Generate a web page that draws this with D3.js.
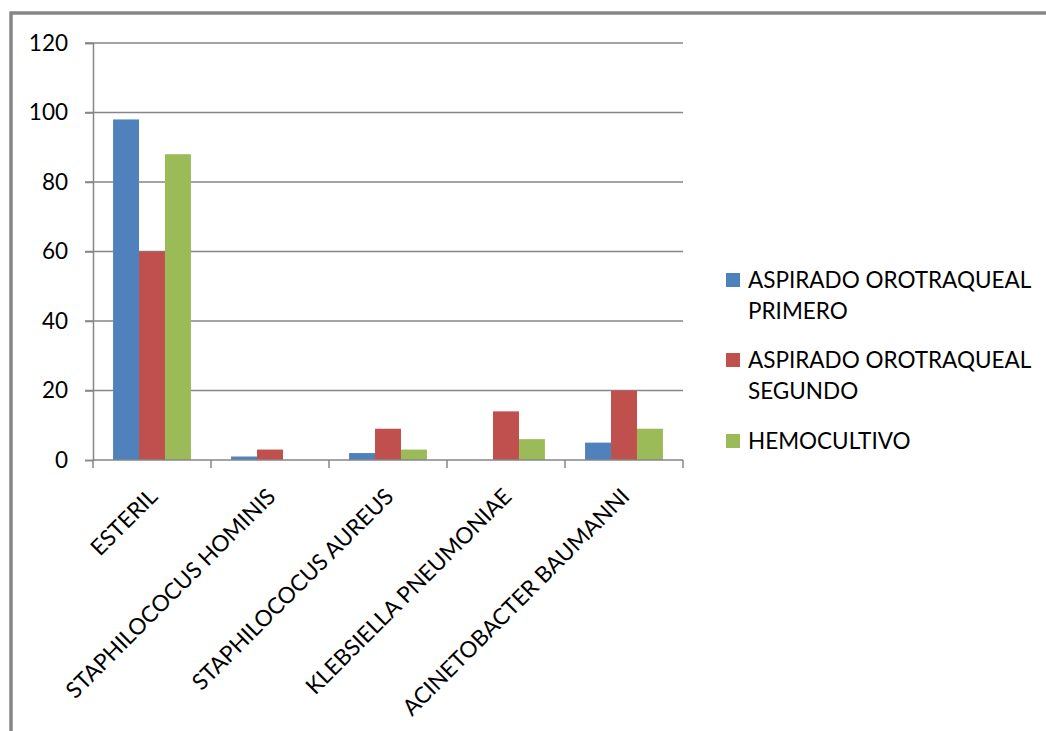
<!DOCTYPE html>
<html>
<head>
<meta charset="utf-8">
<script src="https://cdn.jsdelivr.net/npm/d3@7"></script>
<style>
  html, body { margin: 0; padding: 0; background: #fff; }
  svg { display: block; font-family: Lato, "Open Sans", sans-serif; }
</style>
</head>
<body>
<svg id="chart" width="1046" height="731"></svg>
<script>
// Organisms isolated per sample type
const categories = ["ESTERIL", "STAPHILOCOCUS HOMINIS", "STAPHILOCOCUS AUREUS", "KLEBSIELLA PNEUMONIAE", "ACINETOBACTER BAUMANNI"];
const seriesNames = ["ASPIRADO OROTRAQUEAL PRIMERO", "ASPIRADO OROTRAQUEAL SEGUNDO", "HEMOCULTIVO"];
const legendLines = [["ASPIRADO OROTRAQUEAL", "PRIMERO"], ["ASPIRADO OROTRAQUEAL", "SEGUNDO"], ["HEMOCULTIVO"]];
const aspiradoPrimero = [98, 1, 2, 0, 5];
const aspiradoSegundo = [60, 3, 9, 14, 20];
const hemocultivo = [88, 0, 3, 6, 9];
const yTicks = [0, 20, 40, 60, 80, 100, 120];
const colors = ["#4F81BD", "#C0504D", "#9BBB59"];

const seriesValues = [aspiradoPrimero, aspiradoSegundo, hemocultivo];

const svg = d3.select("#chart");
const gridColor = "#868686";
const fontSize = 22.5;

// Outer frame
svg.append("rect")
  .attr("x", 11).attr("y", 13)
  .attr("width", 1100).attr("height", 800)
  .attr("fill", "none")
  .attr("stroke", gridColor)
  .attr("stroke-width", 3.5);

const plot = { left: 93, right: 683, top: 43, bottom: 460 };

const x = d3.scaleBand()
  .domain(categories)
  .range([plot.left, plot.right])
  .paddingInner(0.34)
  .paddingOuter(0.17);

const xSeries = d3.scaleBand()
  .domain(d3.range(seriesNames.length))
  .range([0, x.bandwidth()]);

const y = d3.scaleLinear()
  .domain([0, 120])
  .range([plot.bottom, plot.top]);

// Horizontal gridlines
svg.append("g")
  .selectAll("line")
  .data(yTicks.filter(t => t > 0))
  .join("line")
  .attr("x1", plot.left - 8)
  .attr("x2", plot.right)
  .attr("y1", d => y(d))
  .attr("y2", d => y(d))
  .attr("stroke", gridColor)
  .attr("stroke-width", 1.5);

// Bars
const groups = svg.append("g")
  .selectAll("g")
  .data(seriesValues)
  .join("g")
  .attr("fill", (d, i) => colors[i]);

groups.selectAll("rect")
  .data((vals, si) => vals.map((v, ci) => ({ v, ci, si })))
  .join("rect")
  .attr("x", d => x(categories[d.ci]) + xSeries(d.si))
  .attr("y", d => y(d.v))
  .attr("width", xSeries.bandwidth())
  .attr("height", d => y(0) - y(d.v));

// Y axis
const yAxis = d3.axisLeft(y)
  .tickValues(yTicks)
  .tickSize(8)
  .tickFormat(d3.format("d"));

const yG = svg.append("g")
  .attr("transform", `translate(${plot.left},0)`)
  .call(yAxis);
yG.select(".domain").attr("stroke", gridColor).attr("stroke-width", 1.5);
yG.selectAll(".tick line").attr("stroke", gridColor).attr("stroke-width", 1.5);
yG.selectAll(".tick text")
  .attr("x", -25)
  .attr("font-size", fontSize)
  .attr("font-family", "Lato, sans-serif")
  .attr("fill", "#000");

// X axis with ticks at category boundaries
const boundaries = categories.map(c => x(c) - x.step() * x.paddingInner() / 2)
  .concat([plot.right]);
const xG = svg.append("g");
xG.append("line")
  .attr("x1", plot.left).attr("x2", plot.right)
  .attr("y1", plot.bottom).attr("y2", plot.bottom)
  .attr("stroke", gridColor).attr("stroke-width", 1.5);
xG.selectAll("line.tick")
  .data(boundaries)
  .join("line")
  .attr("class", "tick")
  .attr("x1", d => d).attr("x2", d => d)
  .attr("y1", plot.bottom).attr("y2", plot.bottom + 8)
  .attr("stroke", gridColor).attr("stroke-width", 1.5);

// Rotated category labels
xG.selectAll("text")
  .data(categories)
  .join("text")
  .attr("transform", d => `translate(${x(d) + x.bandwidth() / 2 + 7},${plot.bottom + 38}) rotate(-45)`)
  .attr("text-anchor", "end")
  .attr("font-size", fontSize)
  .attr("fill", "#000")
  .text(d => d);

// Legend
const legendY = [273, 353, 434];
const legend = svg.append("g");
seriesNames.forEach((name, i) => {
  const g = legend.append("g").attr("transform", `translate(726,${legendY[i]})`);
  g.append("rect")
    .attr("width", 14).attr("height", 14)
    .attr("fill", colors[i]);
  const t = g.append("text")
    .attr("x", 22)
    .attr("y", 15)
    .attr("font-size", fontSize)
    .attr("fill", "#000");
  legendLines[i].forEach((line, li) => {
    t.append("tspan")
      .attr("x", 22)
      .attr("dy", li === 0 ? 0 : 31)
      .text(line);
  });
});
</script>
</body>
</html>
